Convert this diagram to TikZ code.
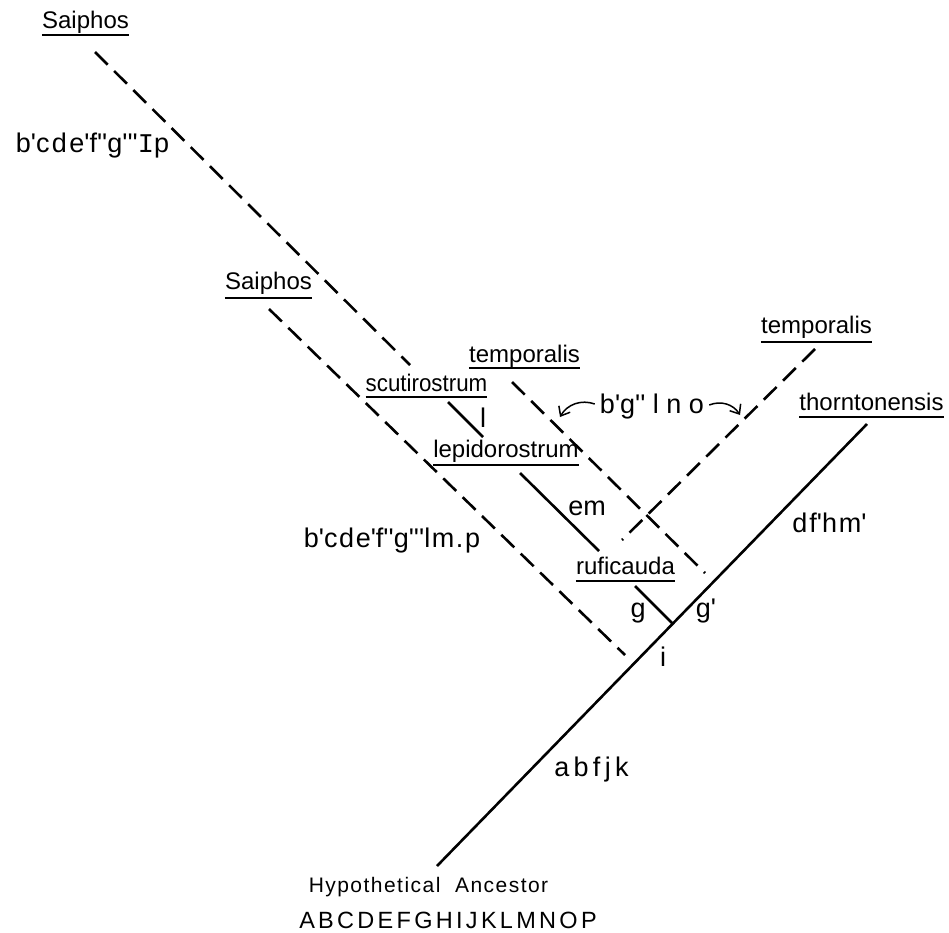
\documentclass[tikz,border=0pt]{standalone}
\usepackage{fontspec}
\setmainfont{Liberation Sans}
\newfontfamily\slabI{Liberation Mono}
\usetikzlibrary{arrows.meta}
\newcommand\pr{\textquotesingle}
\tikzset{
  taxon/.style={anchor=base, inner sep=0pt, font=\fontsize{24}{28}\selectfont},
  chars/.style={anchor=base, inner sep=0pt, font=\fontsize{27}{30}\selectfont},
  spaced/.style={font=\fontsize{27}{30}\selectfont\addfontfeature{LetterSpace=#1}},
  uline/.style={line width=1.4pt},
  dashbranch/.style={line width=2.6pt, dash pattern=on 18pt off 9pt},
  solidbranch/.style={line width=2.6pt},
  change/.style={line width=1.5pt, -{Straight Barb[length=8pt,width=13pt]}}
}
\begin{document}
\begin{tikzpicture}[x=1pt, y=-1pt]
\fill[white] (0,0) rectangle (949,932);
\useasboundingbox (0,0) rectangle (949,932);

% taxon names
\node[taxon] (SaiA) at (85.5,28) {Saiphos};
\node[taxon] (SaiB) at (268.5,289) {Saiphos};
\node[taxon, xscale=0.93] (scut) at (426.5,391) {scutirostrum};
\node[taxon] (tempM) at (524.5,362) {temporalis};
\node[taxon] (lepid) at (506,457) {lepidorostrum};
\node[taxon] (rufi) at (625.5,574) {ruficauda};
\node[taxon] (tempR) at (816.5,333) {temporalis};
\node[taxon] (thor) at (871.5,410) {thorntonensis};
\foreach \n/\d in {SaiA/7,SaiB/9,scut/6,tempM/6,lepid/8,rufi/7,tempR/9,thor/7}
  \draw[uline] ([yshift=-\d pt]\n.base west) -- ([yshift=-\d pt]\n.base east);

% ancestor
\node[anchor=base, inner sep=0pt, font=\fontsize{21}{24}\selectfont\addfontfeature{LetterSpace=7}] (anc) at (428.5,892) {Hypothetical\ \ Ancestor};
\node[anchor=base, inner sep=0pt, font=\fontsize{23.5}{28}\selectfont\addfontfeature{LetterSpace=14}] (ancst) at (448,928) {ABCDEFGHIJKLMNOP};

% branch end points
\coordinate (a0) at (95,52);
\coordinate (a1) at (410,365);
\coordinate (a2) at (448,402);
\coordinate (a3) at (483,437);
\coordinate (a4) at (520,473);
\coordinate (a5) at (599,551);
\coordinate (a6) at (635,586);
\coordinate (jr) at (673,624);
\coordinate (b0) at (269,309);
\coordinate (b1) at (625,655);
\coordinate (t0) at (512,382);
\coordinate (t1) at (705,573);
\coordinate (r0) at (815,349);
\coordinate (r1) at (622,540);
\coordinate (root) at (437,866);
\coordinate (tip) at (867,424);

% branches
\draw[dashbranch] (a0) -- (a1);
\draw[solidbranch] (a2) -- (a3);
\draw[solidbranch] (a4) -- (a5);
\draw[solidbranch] (a6) -- (jr);
\draw[dashbranch] (b0) -- (b1);
\draw[dashbranch] (t0) -- (t1);
\draw[dashbranch] (r0) -- (r1);
\draw[solidbranch] (root) -- (tip);

% character-state labels
\node[chars, spaced=9] (cA) at (92.5,152) {b\pr cde\pr f\pr\pr g\pr\pr\pr{\slabI I}p};
\node[chars, spaced=6] (cB) at (392,547) {b\pr cde\pr f\pr\pr g\pr\pr\pr lm.p};
\node[chars] (cl) at (483,427) {l};
\node[chars] (cem) at (587,515) {em};
\node[chars] (cto) at (652,413) {b\pr g\pr\pr\ l n o};
\node[chars] (cg) at (638,617) {g};
\node[chars] (cg1) at (706,617) {g\pr};
\node[chars] (ci) at (663,666) {i};
\node[chars, spaced=7] (cdf) at (829.5,532) {df\pr hm\pr};
\node[chars, spaced=16] (cab) at (591.5,776) {abfjk};

% arrows from the shared changes
\coordinate (arL) at (560,417);
\coordinate (arR) at (740,415);
\draw[change] ([xshift=-5pt,yshift=9pt]cto.base west) to[bend right=40] (arL);
\draw[change] ([xshift=5pt,yshift=8pt]cto.base east) to[bend left=40] (arR);
\end{tikzpicture}
\end{document}
